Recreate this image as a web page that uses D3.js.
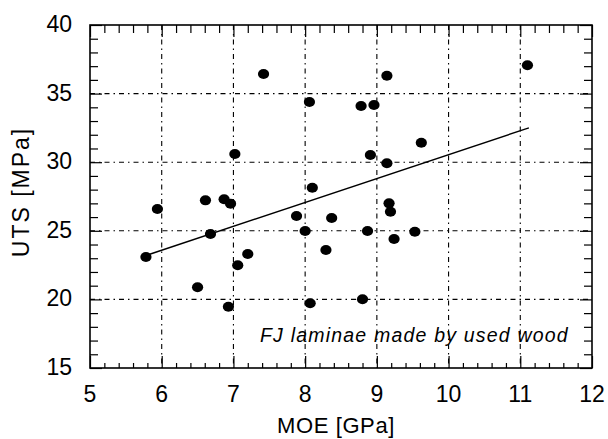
<!DOCTYPE html>
<html>
<head>
<meta charset="utf-8">
<script src="https://cdn.jsdelivr.net/npm/d3@7"></script>
<style>
  html, body { margin: 0; padding: 0; background: #fff; }
  svg { display: block; }
  text { font-family: "Liberation Sans", Arial, Helvetica, sans-serif; fill: #000; }
</style>
</head>
<body>
<svg id="chart" width="608" height="439"></svg>
<script>
// ---- data ----
const moe = [7.42, 9.14, 11.10, 8.06, 8.78, 8.96, 7.02, 8.91, 9.14, 9.62,
             5.94, 6.61, 6.87, 6.96, 8.10, 7.88, 8.37, 8.00, 6.68, 5.78,
             7.20, 7.06, 8.29, 6.50, 6.93, 8.07, 8.80, 8.87, 9.17, 9.19,
             9.24, 9.53];
const uts = [36.43, 36.30, 37.06, 34.39, 34.10, 34.17, 30.60, 30.52, 29.92, 31.42,
             26.59, 27.22, 27.30, 26.98, 28.14, 26.08, 25.93, 24.99, 24.77, 23.09,
             23.31, 22.49, 23.60, 20.88, 19.47, 19.72, 20.01, 24.99, 27.00, 26.39,
             24.40, 24.93];
const fitX = [5.79, 11.12];
const fitY = [23.22, 32.50];
const xTicks = [5, 6, 7, 8, 9, 10, 11, 12];
const yTicks = [15, 20, 25, 30, 35, 40];
const xLabel = "MOE [GPa]";
const yLabel = "UTS [MPa]";
const note = "FJ laminae made by used wood";

// ---- layout ----
const svg = d3.select("#chart");
const L = 90, R = 592, T = 25, B = 368;
const x = d3.scaleLinear().domain([5, 12]).range([L, R]);
const y = d3.scaleLinear().domain([15, 40]).range([B, T]);

// gridlines (dash-dot)
const grid = svg.append("g").attr("stroke", "#000").attr("stroke-width", 1.1)
  .attr("stroke-dasharray", "5,4,1.5,4").attr("fill", "none");
grid.selectAll("line.gx").data(xTicks.slice(1, -1)).join("line")
  .attr("x1", d => x(d)).attr("x2", d => x(d)).attr("y1", T).attr("y2", B);
grid.selectAll("line.gy").data(yTicks.slice(1, -1)).join("line")
  .attr("y1", d => y(d)).attr("y2", d => y(d)).attr("x1", L).attr("x2", R);

// axes with inward ticks
const xMinor = d3.range(5, 12.001, 0.2).map(v => +v.toFixed(2));
const yMinor = d3.range(15, 40.001, 1);
const isMajorX = v => Math.abs(v - Math.round(v)) < 1e-6;
const isMajorY = v => v % 5 === 0;

const gB = svg.append("g").attr("transform", `translate(0,${B})`).call(d3.axisTop(x).tickValues(xMinor).tickFormat("").tickSizeOuter(0));
gB.selectAll(".tick line").attr("y2", d => isMajorX(d) ? -12 : -5);
const gT = svg.append("g").attr("transform", `translate(0,${T})`).call(d3.axisBottom(x).tickValues(xMinor).tickFormat("").tickSizeOuter(0));
gT.selectAll(".tick line").attr("y2", d => isMajorX(d) ? 12 : 8);
const gL = svg.append("g").attr("transform", `translate(${L},0)`).call(d3.axisRight(y).tickValues(yMinor).tickFormat("").tickSizeOuter(0));
gL.selectAll(".tick line").attr("x2", d => isMajorY(d) ? 12 : 8);
const gR = svg.append("g").attr("transform", `translate(${R},0)`).call(d3.axisLeft(y).tickValues(yMinor).tickFormat("").tickSizeOuter(0));
gR.selectAll(".tick line").attr("x2", d => isMajorY(d) ? -12 : -8);
[gB, gT, gL, gR].forEach(g => {
  g.select(".domain").remove();
  g.selectAll(".tick line").attr("stroke", "#000").attr("stroke-width", 1.2);
});

// frame
svg.append("rect").attr("x", L).attr("y", T).attr("width", R - L).attr("height", B - T)
  .attr("fill", "none").attr("stroke", "#000").attr("stroke-width", 1.6);

// tick labels
svg.append("g").selectAll("text").data(xTicks).join("text")
  .attr("x", d => x(d)).attr("y", B + 34).attr("text-anchor", "middle")
  .style("font-size", "23px").text(d => d);
svg.append("g").selectAll("text").data(yTicks).join("text")
  .attr("x", 72).attr("y", d => y(d) + 7).attr("text-anchor", "end")
  .style("font-size", "23px").text(d => d);

// axis titles
svg.append("text").attr("x", 336).attr("y", 433).attr("text-anchor", "middle")
  .style("font-size", "22px").style("letter-spacing", "0.6px").text(xLabel);
svg.append("text").attr("transform", "translate(29,192) rotate(-90)")
  .attr("text-anchor", "middle").style("font-size", "23px").style("letter-spacing", "2px")
  .text(yLabel);

// regression line
svg.append("line")
  .attr("x1", x(fitX[0])).attr("y1", y(fitY[0]))
  .attr("x2", x(fitX[1])).attr("y2", y(fitY[1]))
  .attr("stroke", "#000").attr("stroke-width", 1.4);

// points
svg.append("g").selectAll("ellipse").data(moe.map((m, i) => [m, uts[i]])).join("ellipse")
  .attr("cx", d => x(d[0])).attr("cy", d => y(d[1]))
  .attr("rx", 5.6).attr("ry", 5).attr("fill", "#000");

// annotation
svg.append("text").attr("x", 260).attr("y", 342)
  .style("font-size", "19.5px").style("font-style", "italic").style("letter-spacing", "1.2px")
  .text(note);
</script>
</body>
</html>
